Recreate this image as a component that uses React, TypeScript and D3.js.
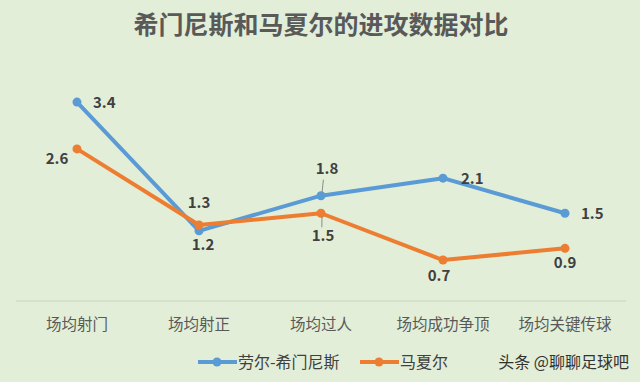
import React from "react";
import * as d3 from "d3";

const categories = ["场均射门", "场均射正", "场均过人", "场均成功争顶", "场均关键传球"];
const seriesNames = ["劳尔-希门尼斯", "马夏尔"];
const jimenez = [3.4, 1.2, 1.8, 2.1, 1.5];
const martial = [2.6, 1.3, 1.5, 0.7, 0.9];
const title = "希门尼斯和马夏尔的进攻数据对比";
const watermark = "头条 @聊聊足球吧";

const W = 640, H = 382;
const colors = ["#5b9bd5", "#ed7d31"];
const font = "'Noto Sans CJK SC', 'Microsoft YaHei', sans-serif";

// label offsets (dx, dy, anchor, leader)
const labelPos = [
  [[16, 6, "start", false], [4, 19, "middle", false], [6, -22, "middle", true], [18, 6, "start", false], [16, 6, "start", false]],
  [[-20, 15, "middle", false], [0, -17, "middle", false], [2, 28, "middle", true], [-4, 21, "middle", false], [0, 20, "middle", false]],
] as const;

export default function App() {
  const x = d3.scaleBand<string>().domain(categories).range([16, 626]);
  const y = d3.scaleLinear().domain([0, 4]).range([301, 67]);
  const data = [jimenez, martial];
  const line = d3
    .line<number>()
    .x((_, i) => (x(categories[i]) as number) + x.bandwidth() / 2)
    .y((d) => y(d));

  return (
    <svg
      width={W}
      height={H}
      style={{ position: "absolute", left: 0, top: 0, display: "block" }}
      fontFamily={font}
    >
      <rect x={0} y={0} width={W} height={H} fill="#e2eed8" />
      <text x={321} y={34} textAnchor="middle" fontSize={25} fontWeight="bold" fill="#595959">
        {title}
      </text>
      <line x1={16} x2={626} y1={y(0)} y2={y(0)} stroke="#c9d3c2" strokeWidth={1} />
      {categories.map((c) => (
        <text
          key={c}
          x={(x(c) as number) + x.bandwidth() / 2}
          y={330}
          textAnchor="middle"
          fontSize={15.5}
          fill="#595959"
        >
          {c}
        </text>
      ))}
      {data.map((s, si) => (
        <g key={si}>
          <path d={line(s) || ""} fill="none" stroke={colors[si]} strokeWidth={4} strokeLinejoin="round" />
          {s.map((v, i) => {
            const cx = (x(categories[i]) as number) + x.bandwidth() / 2;
            return <circle key={i} cx={cx} cy={y(v)} r={4.5} fill={colors[si]} />;
          })}
        </g>
      ))}
      {data.map((s, si) =>
        s.map((v, i) => {
          const cx = (x(categories[i]) as number) + x.bandwidth() / 2;
          const cy = y(v);
          const [dx, dy, anchor, leader] = labelPos[si][i];
          return (
            <g key={`${si}-${i}`}>
              {leader && (
                <line
                  x1={cx + dx * 0.4}
                  y1={cy + (dy < 0 ? dy + 6 : dy - 14)}
                  x2={cx + 1}
                  y2={cy + (dy < 0 ? -3 : 3)}
                  stroke="#8c8c8c"
                  strokeWidth={1}
                />
              )}
              <text
                x={cx + dx}
                y={cy + dy}
                textAnchor={anchor}
                fontSize={15}
                fontWeight="bold"
                fill="#404040"
              >
                {v.toFixed(1)}
              </text>
            </g>
          );
        })
      )}
      {seriesNames.map((n, i) => {
        const lx = [198, 360][i];
        return (
          <g key={n}>
            <line x1={lx} x2={lx + 39} y1={362} y2={362} stroke={colors[i]} strokeWidth={4} />
            <circle cx={lx + 19} cy={362} r={4.5} fill={colors[i]} />
            <text x={lx + 40} y={368} fontSize={16} fill="#404040">
              {n}
            </text>
          </g>
        );
      })}
      <text x={629} y={368} textAnchor="end" fontSize={16} fill="#333333">
        {watermark}
      </text>
    </svg>
  );
}
